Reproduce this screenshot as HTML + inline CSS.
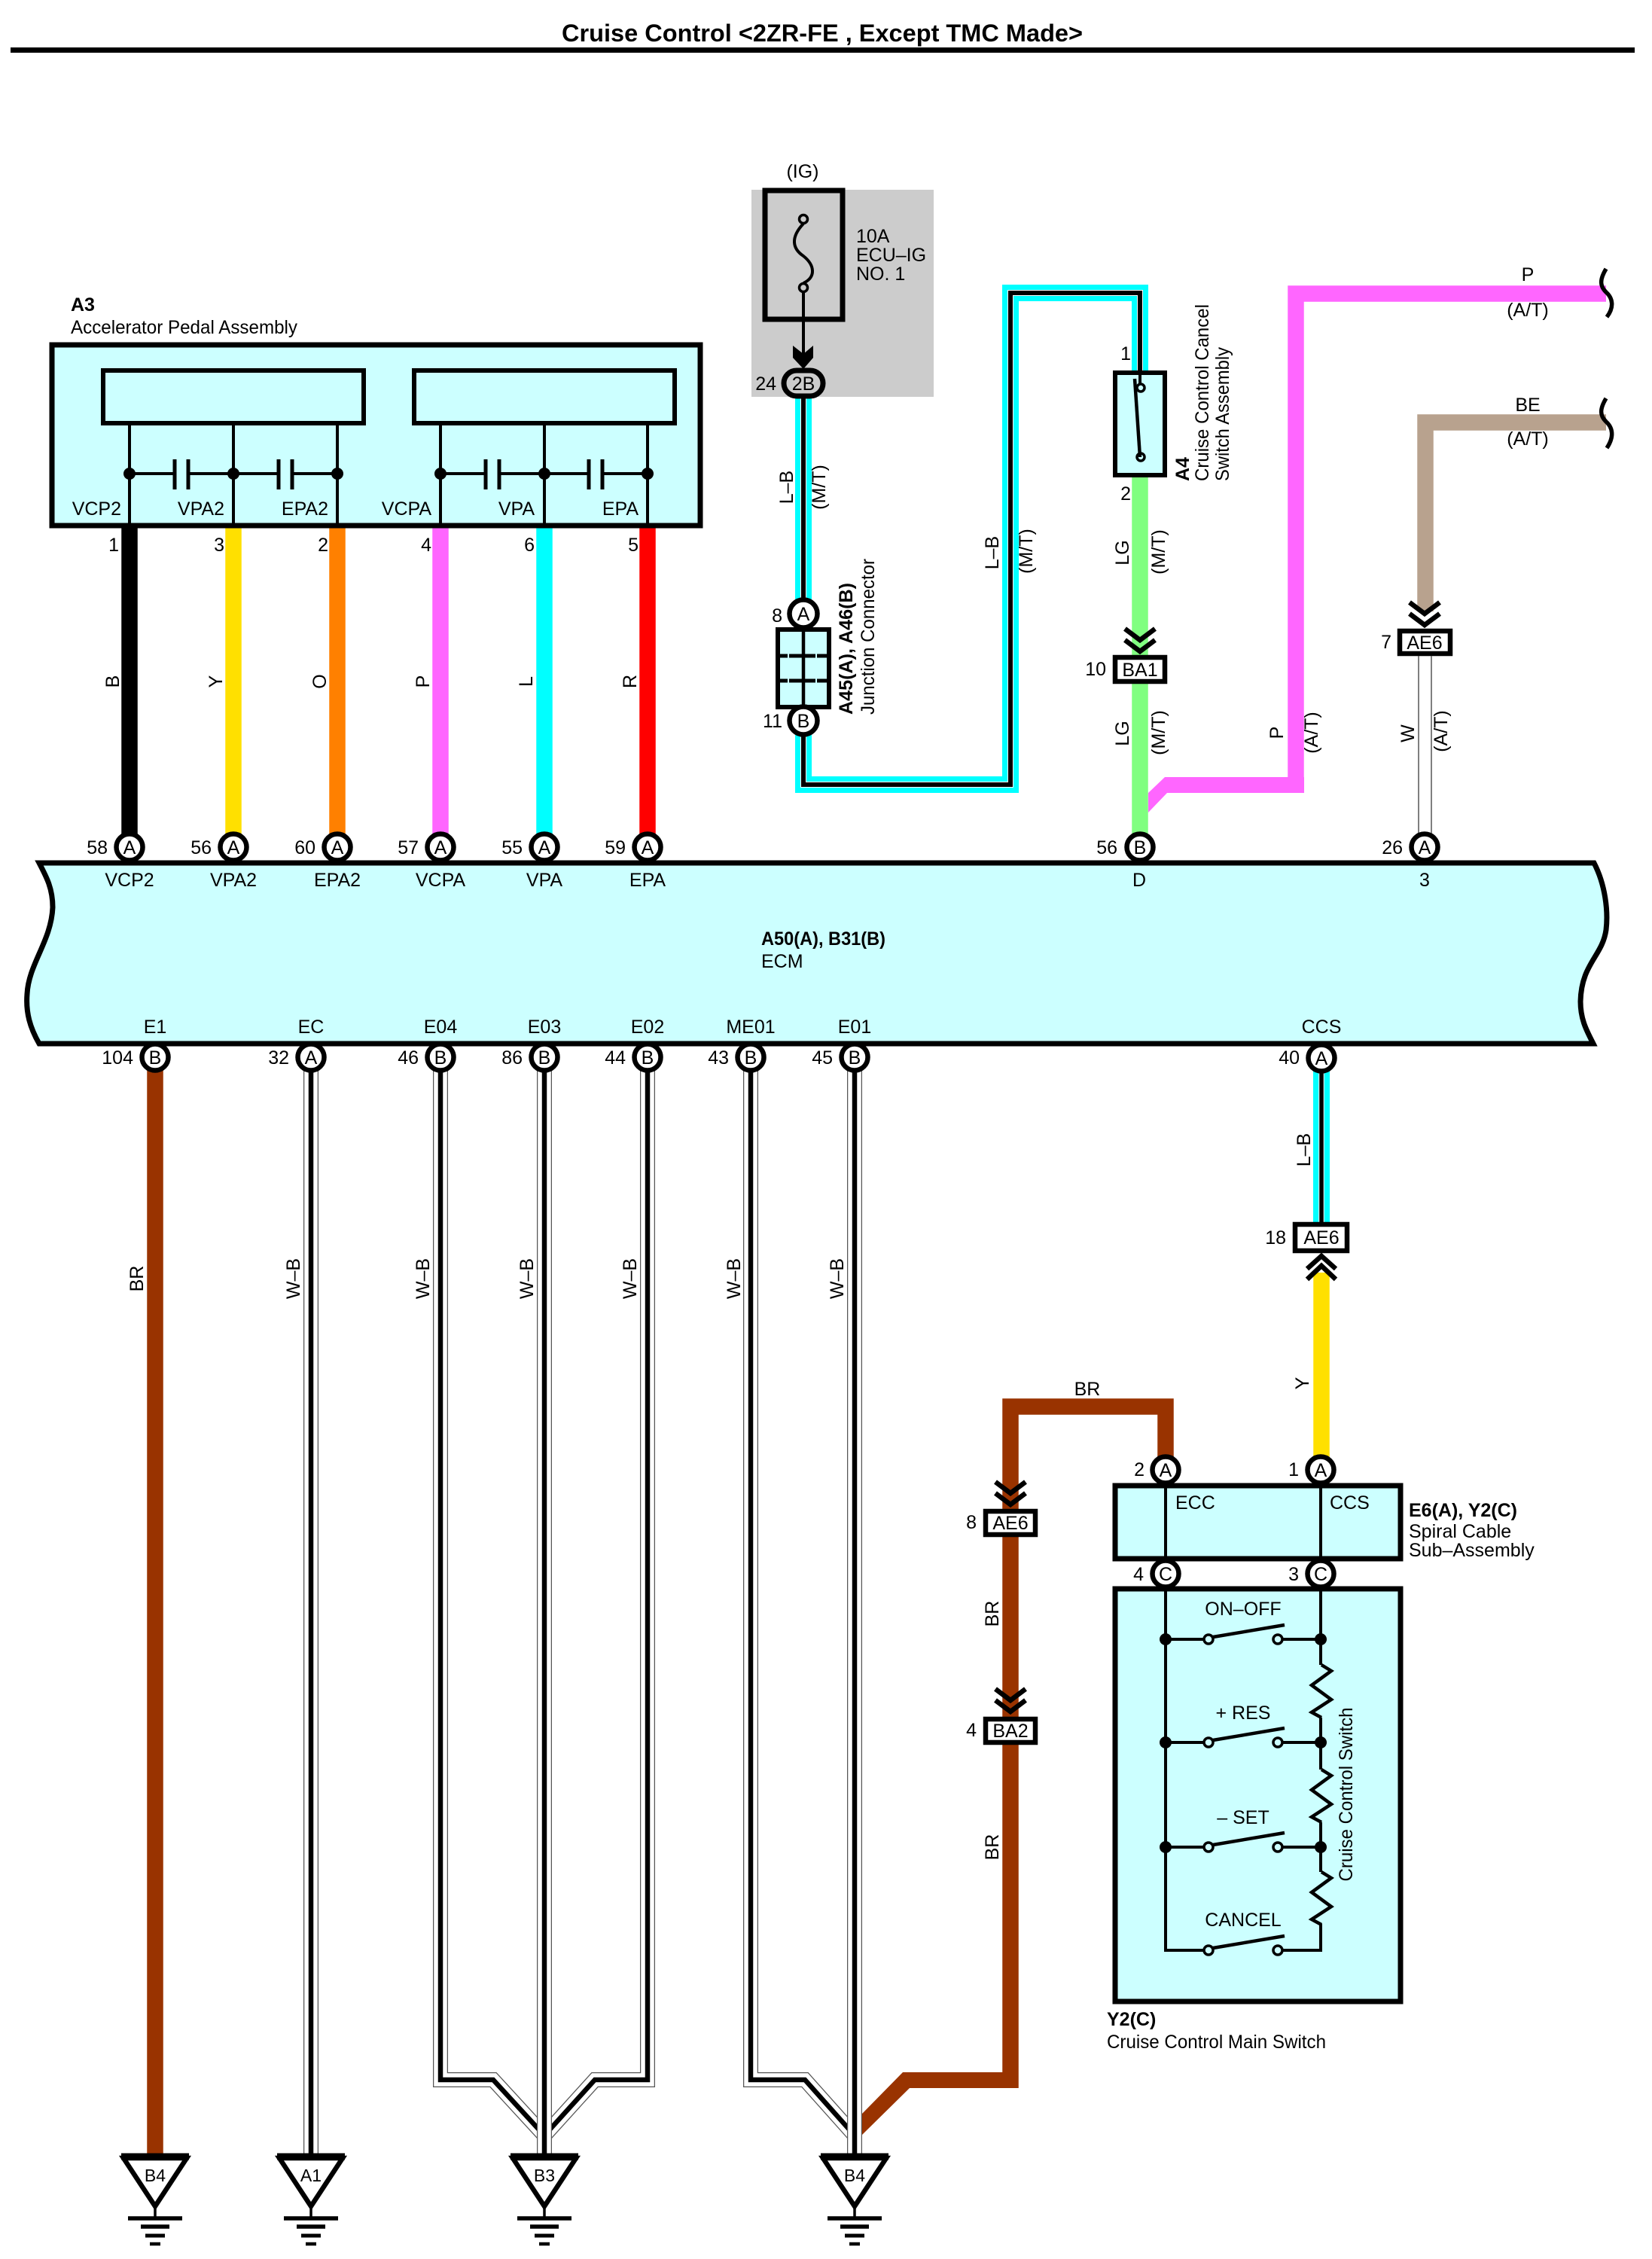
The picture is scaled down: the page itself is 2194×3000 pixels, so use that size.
<!DOCTYPE html>
<html><head><meta charset="utf-8"><style>
html,body{margin:0;padding:0;background:#fff}
svg{display:block}
text{font-family:"Liberation Sans",sans-serif;font-size:25px;fill:#000}
.m{text-anchor:middle}.e{text-anchor:end}.b{font-weight:bold}
.p{fill:#fff;stroke:#000;stroke-width:6.5}
.box{fill:#ccffff;stroke:#000;stroke-width:7;stroke-linejoin:miter}
.in{fill:#ccffff;stroke:#000;stroke-width:6}
.l{fill:none;stroke:#000;stroke-width:4}
.c{fill:none;stroke:#000;stroke-width:5.5}
.w{fill:none;stroke-width:21.5;stroke-linejoin:miter}
.wo{fill:none;stroke:#555;stroke-width:20}.wi{fill:none;stroke:#fff;stroke-width:17.5}.wb{fill:none;stroke:#000;stroke-width:6.5}
.cn{fill:#fff;stroke:#000;stroke-width:6.5}
.sw{fill:#ccffff;stroke:#000;stroke-width:3.5}
</style></head><body>
<svg width="2194" height="3000" viewBox="0 0 2194 3000" xmlns="http://www.w3.org/2000/svg">
<defs>
<path id="chev" d="M-20 -15L0 0L20 -15M-20 0L0 15L20 0" fill="none" stroke="#000" stroke-width="6.5"/>
<g id="gnd"><path d="M0 2930V2946" stroke="#000" stroke-width="3.5"/><path d="M-36 2946H36" stroke="#000" stroke-width="5.5"/><path d="M-19 2957H19" stroke="#000" stroke-width="5.5"/><path d="M-13 2969H13" stroke="#000" stroke-width="5"/><path d="M-7 2980H7" stroke="#000" stroke-width="4.5"/><path d="M-42 2866H42L0 2930Z" fill="#fff" stroke="#000" stroke-width="6.5"/><path d="M-45 2864H45" stroke="#000" stroke-width="9"/></g>
<g id="swt"><path d="M1548 0H1600M1703 0H1754" stroke="#000" stroke-width="4" fill="none"/><circle cx="1605" cy="0" r="6" class="sw"/><circle cx="1697" cy="0" r="6" class="sw"/><path d="M1611 -3L1706 -19" stroke="#000" stroke-width="4.5"/></g>
<path id="zig" d="M1755 0L1768 8L1742 27L1768 46L1742 63L1755 70" fill="none" stroke="#000" stroke-width="4.5"/>
</defs>

<text x="1092" y="55" class="m b" style="font-size:32px" textLength="692" lengthAdjust="spacingAndGlyphs">Cruise Control &lt;2ZR-FE , Except TMC Made&gt;</text>
<rect x="14" y="63" width="2157" height="7" fill="#000"/>

<!-- A3 wires -->
<path class="w" stroke="#000" d="M172 698V1108"/>
<path class="w" stroke="#ffe000" d="M310 698V1108"/>
<path class="w" stroke="#ff8000" d="M448 698V1108"/>
<path class="w" stroke="#ff66ff" d="M585 698V1108"/>
<path class="w" stroke="#00ffff" d="M723 698V1108"/>
<path class="w" stroke="#ff0000" d="M860 698V1108"/>

<text x="94" y="413" class="b">A3</text>
<text x="94" y="443" textLength="301" lengthAdjust="spacingAndGlyphs">Accelerator Pedal Assembly</text>
<rect x="69" y="458" width="861" height="240" class="box"/>
<rect x="137" y="492" width="346" height="70" class="in"/>
<rect x="550" y="492" width="346" height="70" class="in"/>
<path class="l" d="M172 562V695M310 562V695M448 562V695M585 562V695M723 562V695M860 562V695"/>
<path class="l" d="M172 629H232M250 629H370M388 629H448M585 629H645M663 629H782M800 629H860"/>
<path d="M232 610V650M250 610V650M370 610V650M388 610V650M645 610V650M663 610V650M782 610V650M800 610V650" stroke="#000" stroke-width="5" fill="none"/>
<g fill="#000"><circle cx="172" cy="629" r="8"/><circle cx="310" cy="629" r="8"/><circle cx="448" cy="629" r="8"/><circle cx="585" cy="629" r="8"/><circle cx="723" cy="629" r="8"/><circle cx="860" cy="629" r="8"/></g>
<text x="161" y="684" class="e">VCP2</text><text x="298" y="684" class="e">VPA2</text><text x="436" y="684" class="e">EPA2</text><text x="573" y="684" class="e">VCPA</text><text x="710" y="684" class="e">VPA</text><text x="848" y="684" class="e">EPA</text>
<text x="158" y="732" class="e">1</text><text x="298" y="732" class="e">3</text><text x="436" y="732" class="e">2</text><text x="573" y="732" class="e">4</text><text x="710" y="732" class="e">6</text><text x="848" y="732" class="e">5</text>
<text x="158" y="905" class="m" transform="rotate(-90 158 905)">B</text>
<text x="295" y="905" class="m" transform="rotate(-90 295 905)">Y</text>
<text x="433" y="905" class="m" transform="rotate(-90 433 905)">O</text>
<text x="570" y="905" class="m" transform="rotate(-90 570 905)">P</text>
<text x="707" y="905" class="m" transform="rotate(-90 707 905)">L</text>
<text x="845" y="905" class="m" transform="rotate(-90 845 905)">R</text>

<!-- fuse area -->
<rect x="998" y="252" width="242" height="275" fill="#ccc"/>
<text x="1066" y="236" class="m">(IG)</text>
<rect x="1016" y="253" width="103" height="171" fill="none" stroke="#000" stroke-width="7"/>
<path d="M1067 297C1050 315,1052 330,1067 340C1082 352,1084 368,1067 376" class="l"/>
<circle cx="1067" cy="291" r="5.5" fill="#ccc" stroke="#000" stroke-width="3.5"/>
<circle cx="1067" cy="382" r="5.5" fill="#ccc" stroke="#000" stroke-width="3.5"/>
<path class="l" d="M1067 388V470"/>
<polygon points="1053,459 1067,470 1080,459 1080,475 1067,490 1053,475" fill="#000"/>
<text x="1137" y="322">10A</text><text x="1137" y="347">ECU–IG</text><text x="1137" y="372">NO. 1</text>

<!-- L-B top wire -->
<path fill="none" stroke="#00ffff" stroke-width="22" d="M1067 525V1042H1342V389H1514V495"/>
<path fill="none" stroke="#fff" stroke-width="8" d="M1067 525V1042H1342V389H1514V495"/>
<path fill="none" stroke="#000" stroke-width="6" d="M1067 525V1042H1342V389H1514V495"/>
<rect x="1041" y="492" width="52" height="34" rx="17" fill="#ccc" stroke="#000" stroke-width="7"/>
<text x="1067" y="518" class="m">2B</text>
<text x="1031" y="518" class="e">24</text>

<text x="1053" y="647" class="m" transform="rotate(-90 1053 647)">L–B</text>
<text x="1096" y="647" class="m" transform="rotate(-90 1096 647)">(M/T)</text>
<text x="1326" y="734" class="m" transform="rotate(-90 1326 734)">L–B</text>
<text x="1371" y="732" class="m" transform="rotate(-90 1371 732)">(M/T)</text>

<!-- Junction -->
<rect x="1033" y="836" width="68" height="103" class="in"/>
<path d="M1067 836V939" stroke="#000" stroke-width="4.5"/>
<path d="M1036 871H1046M1048 871H1083M1085 871H1098M1036 904H1046M1048 904H1083M1085 904H1098" stroke="#000" stroke-width="5"/>
<circle cx="1067" cy="815" r="18.5" class="p"/><text x="1067" y="824" class="m">A</text>
<circle cx="1067" cy="957" r="18.5" class="p"/><text x="1067" y="966" class="m">B</text>
<text x="1039" y="826" class="e">8</text><text x="1039" y="966" class="e">11</text>
<text x="1132" y="949" class="b" transform="rotate(-90 1132 949)" textLength="175" lengthAdjust="spacingAndGlyphs">A45(A), A46(B)</text>
<text x="1161" y="949" transform="rotate(-90 1161 949)" textLength="207" lengthAdjust="spacingAndGlyphs">Junction Connector</text>

<!-- LG + P -->
<polygon points="1732,1032 1547,1032 1525,1053 1525,1079 1550,1053 1732,1053" fill="#ff66ff"/>
<path class="w" stroke="#ff66ff" d="M2133 390H1721V1053"/>
<path class="w" stroke="#80ff80" d="M1514 632V1108"/>
<rect x="1481" y="495" width="66" height="136" class="in"/>
<path d="M1514 495V510" class="l"/>
<circle cx="1515" cy="515" r="5" class="sw"/><circle cx="1515" cy="607" r="5" class="sw"/>
<path d="M1507 503L1514 607" stroke="#000" stroke-width="4.5"/>
<text x="1502" y="478" class="e">1</text><text x="1502" y="664" class="e">2</text>
<text x="1579" y="639" class="b" transform="rotate(-90 1579 639)">A4</text>
<text x="1605" y="639" transform="rotate(-90 1605 639)" textLength="235" lengthAdjust="spacingAndGlyphs">Cruise Control Cancel</text>
<text x="1632" y="639" transform="rotate(-90 1632 639)" textLength="178" lengthAdjust="spacingAndGlyphs">Switch Assembly</text>
<text x="1499" y="734" class="m" transform="rotate(-90 1499 734)">LG</text>
<text x="1547" y="733" class="m" transform="rotate(-90 1547 733)">(M/T)</text>
<text x="1499" y="974" class="m" transform="rotate(-90 1499 974)">LG</text>
<text x="1547" y="973" class="m" transform="rotate(-90 1547 973)">(M/T)</text>
<use href="#chev" x="1514" y="850"/>
<rect x="1481" y="873" width="66" height="32" class="cn"/><text x="1514" y="898" class="m">BA1</text>
<text x="1469" y="897" class="e">10</text>
<text x="1704" y="973" class="m" transform="rotate(-90 1704 973)">P</text>
<text x="1750" y="973" class="m" transform="rotate(-90 1750 973)">(A/T)</text>
<path d="M2133 357C2124 372,2125 380,2133 388C2142 396,2144 408,2134 421" fill="none" stroke="#000" stroke-width="5.5"/>
<text x="2029" y="373" class="m">P</text><text x="2029" y="420" class="m">(A/T)</text>

<!-- BE -->
<path class="w" stroke="#b8a28e" d="M2133 561H1893V812"/>
<path d="M2133 529C2124 544,2125 552,2133 560C2142 568,2144 580,2134 595" fill="none" stroke="#000" stroke-width="5.5"/>
<text x="2029" y="546" class="m">BE</text><text x="2029" y="591" class="m">(A/T)</text>
<use href="#chev" x="1892" y="815"/>
<rect x="1859" y="838" width="67" height="30" class="cn"/><text x="1892" y="862" class="m">AE6</text>
<text x="1848" y="861" class="e">7</text>
<path d="M1884 871V1112M1901 871V1112" stroke="#555" stroke-width="1.5"/>
<text x="1878" y="974" class="m" transform="rotate(-90 1878 974)">W</text>
<text x="1922" y="971" class="m" transform="rotate(-90 1922 971)">(A/T)</text>

<!-- Lower wires -->
<path class="w" stroke="#993300" d="M206 1420V2862"/>
<path class="wo" d="M413 1420V2862"/><path class="wi" d="M413 1420V2862"/><path class="wb" d="M413 1420V2862"/>

<path class="wo" d="M585 1420V2762H655L723 2836"/><path class="wo" d="M860 1420V2762H790L723 2836"/>
<path class="wi" d="M585 1420V2762H655L723 2836"/><path class="wi" d="M860 1420V2762H790L723 2836"/>
<path class="wb" d="M585 1420V2762H655L723 2836"/><path class="wb" d="M860 1420V2762H790L723 2836"/>
<path class="wo" d="M723 1420V2862"/><path class="wi" d="M723 1420V2862"/><path class="wb" d="M723 1420V2862"/>

<path class="wo" d="M997 1420V2762H1069L1135 2836"/><path class="wi" d="M997 1420V2762H1069L1135 2836"/><path class="wb" d="M997 1420V2762H1069L1135 2836"/>
<path class="wo" d="M1135 1420V2862"/><path class="wi" d="M1135 1420V2862"/><path class="wb" d="M1135 1420V2862"/>

<path class="w" stroke="#993300" d="M1548 1935V1868H1342V2773"/>
<polygon points="1145,2807 1199,2752 1352,2752 1352,2773 1208,2773 1145,2835" fill="#993300"/>

<text x="190" y="1698" class="m" transform="rotate(-90 190 1698)">BR</text>
<text x="398" y="1698" class="m" transform="rotate(-90 398 1698)">W–B</text>
<text x="570" y="1698" class="m" transform="rotate(-90 570 1698)">W–B</text>
<text x="708" y="1698" class="m" transform="rotate(-90 708 1698)">W–B</text>
<text x="845" y="1698" class="m" transform="rotate(-90 845 1698)">W–B</text>
<text x="983" y="1698" class="m" transform="rotate(-90 983 1698)">W–B</text>
<text x="1120" y="1698" class="m" transform="rotate(-90 1120 1698)">W–B</text>

<!-- grounds -->
<use href="#gnd" x="206"/><use href="#gnd" x="413"/><use href="#gnd" x="723"/><use href="#gnd" x="1135"/>
<text x="206" y="2897" class="m" style="font-size:23px">B4</text>
<text x="413" y="2897" class="m" style="font-size:23px">A1</text>
<text x="723" y="2897" class="m" style="font-size:23px">B3</text>
<text x="1135" y="2897" class="m" style="font-size:23px">B4</text>

<!-- ECM -->
<path d="M52 1146H2117C2132 1175,2136 1210,2133 1235C2128 1270,2100 1280,2099 1330C2099 1355,2108 1370,2116 1386H52C40 1365,34 1345,36 1320C38 1280,68 1250,70 1205C70 1180,62 1165,52 1146Z" class="box"/>
<text x="1011" y="1255" class="b" textLength="165" lengthAdjust="spacingAndGlyphs">A50(A), B31(B)</text>
<text x="1011" y="1285">ECM</text>
<text x="172" y="1177" class="m">VCP2</text><text x="310" y="1177" class="m">VPA2</text><text x="448" y="1177" class="m">EPA2</text><text x="585" y="1177" class="m">VCPA</text><text x="723" y="1177" class="m">VPA</text><text x="860" y="1177" class="m">EPA</text><text x="1513" y="1177" class="m">D</text><text x="1892" y="1177" class="m">3</text>
<text x="206" y="1372" class="m">E1</text><text x="413" y="1372" class="m">EC</text><text x="585" y="1372" class="m">E04</text><text x="723" y="1372" class="m">E03</text><text x="860" y="1372" class="m">E02</text><text x="997" y="1372" class="m">ME01</text><text x="1135" y="1372" class="m">E01</text><text x="1755" y="1372" class="m">CCS</text>

<!-- ECM pins top -->
<circle cx="172" cy="1125" r="17.5" class="p"/><text x="172" y="1134" class="m">A</text><text x="143" y="1134" class="e">58</text>
<circle cx="310" cy="1125" r="17.5" class="p"/><text x="310" y="1134" class="m">A</text><text x="281" y="1134" class="e">56</text>
<circle cx="448" cy="1125" r="17.5" class="p"/><text x="448" y="1134" class="m">A</text><text x="419" y="1134" class="e">60</text>
<circle cx="585" cy="1125" r="17.5" class="p"/><text x="585" y="1134" class="m">A</text><text x="556" y="1134" class="e">57</text>
<circle cx="723" cy="1125" r="17.5" class="p"/><text x="723" y="1134" class="m">A</text><text x="694" y="1134" class="e">55</text>
<circle cx="860" cy="1125" r="17.5" class="p"/><text x="860" y="1134" class="m">A</text><text x="831" y="1134" class="e">59</text>
<circle cx="1514" cy="1125" r="17.5" class="p"/><text x="1514" y="1134" class="m">B</text><text x="1484" y="1134" class="e">56</text>
<circle cx="1892" cy="1125" r="17.5" class="p"/><text x="1892" y="1134" class="m">A</text><text x="1863" y="1134" class="e">26</text>
<!-- ECM pins bottom -->
<circle cx="206" cy="1404" r="17.5" class="p"/><text x="206" y="1413" class="m">B</text><text x="177" y="1413" class="e">104</text>
<circle cx="413" cy="1404" r="17.5" class="p"/><text x="413" y="1413" class="m">A</text><text x="384" y="1413" class="e">32</text>
<circle cx="585" cy="1404" r="17.5" class="p"/><text x="585" y="1413" class="m">B</text><text x="556" y="1413" class="e">46</text>
<circle cx="723" cy="1404" r="17.5" class="p"/><text x="723" y="1413" class="m">B</text><text x="694" y="1413" class="e">86</text>
<circle cx="860" cy="1404" r="17.5" class="p"/><text x="860" y="1413" class="m">B</text><text x="831" y="1413" class="e">44</text>
<circle cx="997" cy="1404" r="17.5" class="p"/><text x="997" y="1413" class="m">B</text><text x="968" y="1413" class="e">43</text>
<circle cx="1135" cy="1404" r="17.5" class="p"/><text x="1135" y="1413" class="m">B</text><text x="1106" y="1413" class="e">45</text>

<!-- CCS wire -->
<path fill="none" stroke="#00ffff" stroke-width="22" d="M1755 1420V1626"/>
<path fill="none" stroke="#fff" stroke-width="7.5" d="M1755 1420V1626"/>
<path fill="none" stroke="#000" stroke-width="5.5" d="M1755 1420V1626"/>
<path class="w" stroke="#ffe000" d="M1755 1690V1935"/>
<path d="M1736 1685L1755 1668L1774 1685M1736 1699L1755 1681L1774 1699" fill="none" stroke="#000" stroke-width="6.5"/>
<circle cx="1755" cy="1405" r="17.5" class="p"/><text x="1755" y="1414" class="m">A</text><text x="1726" y="1413" class="e">40</text>
<rect x="1720" y="1626" width="69" height="35" class="cn"/><text x="1755" y="1652" class="m">AE6</text>
<text x="1708" y="1652" class="e">18</text>
<text x="1740" y="1527" class="m" transform="rotate(-90 1740 1527)">L–B</text>
<text x="1738" y="1837" class="m" transform="rotate(-90 1738 1837)">Y</text>

<!-- BR side -->
<text x="1444" y="1853" class="m">BR</text>
<use href="#chev" x="1342" y="1983"/>
<rect x="1309" y="2007" width="66" height="31" class="cn"/><text x="1342" y="2031" class="m">AE6</text>
<text x="1297" y="2030" class="e">8</text>
<use href="#chev" x="1342" y="2258"/>
<rect x="1309" y="2283" width="66" height="31" class="cn"/><text x="1342" y="2307" class="m">BA2</text>
<text x="1297" y="2306" class="e">4</text>
<text x="1326" y="2143" class="m" transform="rotate(-90 1326 2143)">BR</text>
<text x="1326" y="2453" class="m" transform="rotate(-90 1326 2453)">BR</text>

<!-- Spiral box -->
<rect x="1481" y="1973" width="379" height="97" class="box"/>
<path class="l" d="M1548 1971V2072M1754 1971V2072"/>
<text x="1561" y="2004">ECC</text><text x="1766" y="2004">CCS</text>
<text x="1871" y="2014" class="b">E6(A), Y2(C)</text>
<text x="1871" y="2042">Spiral Cable</text>
<text x="1871" y="2067">Sub–Assembly</text>

<!-- Main switch -->
<rect x="1481" y="2110" width="379" height="548" class="box"/>
<path class="l" d="M1548 2108V2590H1600M1703 2590H1754V2555M1754 2108V2211M1754 2281V2350M1754 2420V2486"/>
<use href="#swt" y="2177"/><use href="#swt" y="2314"/><use href="#swt" y="2453"/><use href="#swt" y="2590"/>
<use href="#zig" y="2211"/><use href="#zig" y="2350"/><use href="#zig" y="2486"/>
<g fill="#000"><circle cx="1548" cy="2177" r="8"/><circle cx="1754" cy="2177" r="8"/><circle cx="1548" cy="2314" r="8"/><circle cx="1754" cy="2314" r="8"/><circle cx="1548" cy="2453" r="8"/><circle cx="1754" cy="2453" r="8"/></g>
<text x="1651" y="2145" class="m">ON–OFF</text>
<text x="1651" y="2283" class="m">+ RES</text>
<text x="1651" y="2422" class="m">– SET</text>
<text x="1651" y="2558" class="m">CANCEL</text>
<text x="1796" y="2383" class="m" transform="rotate(-90 1796 2383)" textLength="231" lengthAdjust="spacingAndGlyphs">Cruise Control Switch</text>
<text x="1470" y="2690" class="b">Y2(C)</text>
<text x="1470" y="2720" textLength="291" lengthAdjust="spacingAndGlyphs">Cruise Control Main Switch</text>

<circle cx="1548" cy="1952" r="17.5" class="p"/><text x="1548" y="1961" class="m">A</text><text x="1520" y="1960" class="e">2</text>
<circle cx="1754" cy="1952" r="17.5" class="p"/><text x="1754" y="1961" class="m">A</text><text x="1725" y="1960" class="e">1</text>
<circle cx="1548" cy="2090" r="17.5" class="p"/><text x="1548" y="2099" class="m">C</text><text x="1519" y="2099" class="e">4</text>
<circle cx="1754" cy="2090" r="17.5" class="p"/><text x="1754" y="2099" class="m">C</text><text x="1725" y="2099" class="e">3</text>
</svg>
</body></html>
